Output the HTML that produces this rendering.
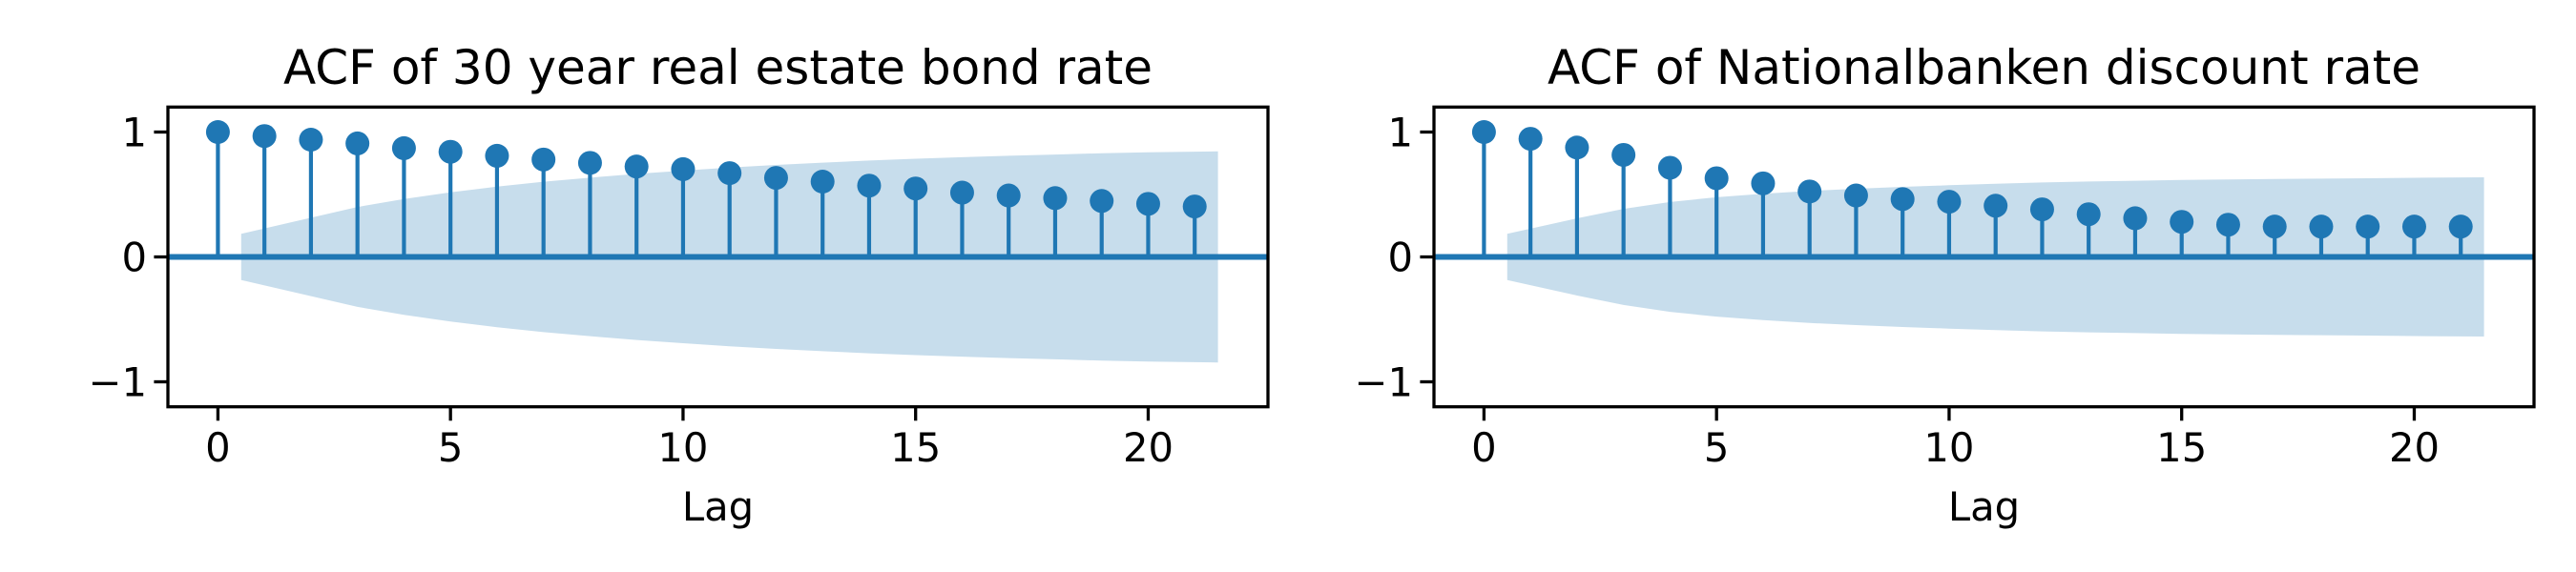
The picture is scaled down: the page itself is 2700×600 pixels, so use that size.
<!DOCTYPE html>
<html><head><meta charset="utf-8"><style>
html,body{margin:0;padding:0;background:#fff}
svg{display:block;font-family:"DejaVu Sans","Liberation Sans",sans-serif}
</style></head><body>
<svg id="chart" width="2700" height="600" viewBox="0 0 2700 600" xmlns="http://www.w3.org/2000/svg"></svg>
<script>
const lags = [0,1,2,3,4,5,6,7,8,9,10,11,12,13,14,15,16,17,18,19,20,21];
const acfBond = [1.0,0.968,0.939,0.909,0.871,0.842,0.81,0.78,0.753,0.724,0.703,0.671,0.633,0.603,0.571,0.548,0.515,0.492,0.471,0.448,0.425,0.404];
const bandBond = [0.185,0.314,0.40,0.464,0.517,0.563,0.602,0.635,0.665,0.691,0.716,0.737,0.755,0.772,0.786,0.799,0.81,0.82,0.83,0.838,0.845];
const acfDisc = [1.0,0.946,0.876,0.817,0.714,0.630,0.589,0.524,0.492,0.463,0.442,0.410,0.381,0.342,0.310,0.281,0.258,0.243,0.243,0.243,0.243,0.243];
const bandDisc = [0.185,0.309,0.385,0.44,0.478,0.506,0.529,0.546,0.561,0.574,0.586,0.596,0.604,0.61,0.616,0.62,0.624,0.627,0.63,0.634,0.637];
const xTicks = [0,5,10,15,20];
const yTicks = [-1,0,1];
const yTickLabels = ["\u22121","0","1"];

const NS="http://www.w3.org/2000/svg";
const svg=document.getElementById('chart');
function mk(tag,attrs,parent){const e=document.createElementNS(NS,tag);for(const k in attrs)e.setAttribute(k,attrs[k]);(parent||svg).appendChild(e);return e;}
const C="#1f77b4";

function panel(key,title,left,right,acf,band){
  const top=112.3,bottom=426.7;
  const xmin=-1.075,xmax=22.575,ymin=-1.2,ymax=1.2;
  const X=v=>left+(v-xmin)/(xmax-xmin)*(right-left);
  const Y=v=>bottom-(v-ymin)/(ymax-ymin)*(bottom-top);
  const g=mk('g',{});
  
  
  const bx=band.map((w,i)=>i+1);
  bx[0]=0.5; bx[bx.length-1]=band.length+0.5;
  let d='';
  band.forEach((w,i)=>{d+=(i?'L':'M')+X(bx[i])+' '+Y(w);});
  for(let i=band.length-1;i>=0;i--) d+='L'+X(bx[i])+' '+Y(-band[i]);
  d+='Z';
  const b=mk('path',{d:d,fill:C,'fill-opacity':0.25},g);
  
  
  acf.forEach((v,i)=>{
    const s=mk('line',{x1:X(lags[i]),x2:X(lags[i]),y1:Y(0),y2:Y(v),stroke:C,'stroke-width':4.2},g);
    
    
  });
  const z=mk('line',{x1:left,x2:right,y1:Y(0),y2:Y(0),stroke:C,'stroke-width':6},g);
  
  
  acf.forEach((v,i)=>{
    const m=mk('circle',{cx:X(lags[i]),cy:Y(v),r:12.5,fill:C},g);
    
    
  });
  const fr=mk('rect',{x:left,y:top,width:right-left,height:bottom-top,fill:'none',stroke:'#000','stroke-width':3.3},g);
  
  
  xTicks.forEach(t=>{
    mk('line',{x1:X(t),x2:X(t),y1:bottom,y2:bottom+14.6,stroke:'#000','stroke-width':3.3},g);
    const tx=mk('text',{x:X(t),y:484,'font-size':41.7,'text-anchor':'middle'},g);
    tx.textContent=t;
    
    
  });
  yTicks.forEach((t,i)=>{
    mk('line',{x1:left-14.6,x2:left,y1:Y(t),y2:Y(t),stroke:'#000','stroke-width':3.3},g);
    const tx=mk('text',{x:left-22,y:Y(t)+15,'font-size':41.7,'text-anchor':'end'},g);
    tx.textContent=yTickLabels[i];
    
    
  });
  const tt=mk('text',{x:(left+right)/2,y:88,'font-size':50,'text-anchor':'middle'},g);
  tt.textContent=title;
  
  
  const xl=mk('text',{x:(left+right)/2,y:546,'font-size':41.7,'text-anchor':'middle'},g);
  xl.textContent='Lag';
  
  
}
panel('bond','ACF of 30 year real estate bond rate',176,1329,acfBond,bandBond);
panel('discount','ACF of Nationalbanken discount rate',1503,2656,acfDisc,bandDisc);
</script>
</body></html>
